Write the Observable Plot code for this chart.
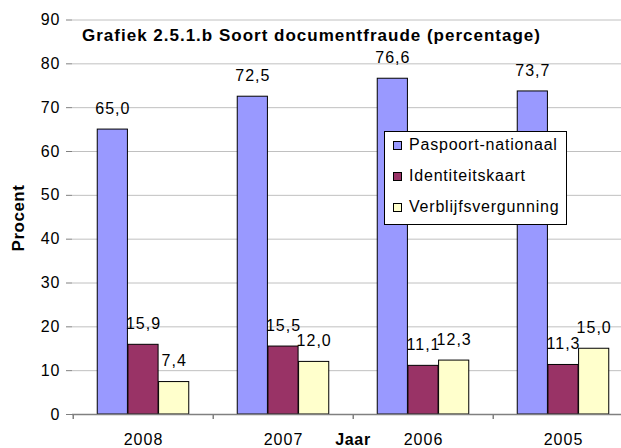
<!DOCTYPE html>
<html>
<head>
<meta charset="utf-8">
<script src="https://cdn.jsdelivr.net/npm/d3@7"></script>
<script src="https://cdn.jsdelivr.net/npm/@observablehq/plot@0.6"></script>
<style>
  html, body { margin: 0; padding: 0; background: #fff; }
  #wrap { position: relative; width: 621px; height: 448px; overflow: hidden; background: #fff;
          font-family: "Liberation Sans", Arial, sans-serif; color: #000; }
  #wrap svg { position: absolute; left: 0; top: 0; }
  #wrap svg text { letter-spacing: 1px; }
  .ov { position: absolute; white-space: nowrap; line-height: 1; }
  #title { left: 82px; top: 27.3px; font-size: 17px; font-weight: bold; letter-spacing: 1px; }
  #ylab { left: 17.5px; top: 218px; font-size: 17px; font-weight: bold; letter-spacing: 0.5px;
          transform: translate(-50%, -50%) rotate(-90deg); }
  #xlab { left: 353px; top: 431.5px; font-size: 16px; font-weight: bold; letter-spacing: 0.7px;
          transform: translateX(-50%); }
  #legend { left: 384px; top: 131px; width: 181px; height: 92px; border: 1px solid #000; background: #fff; }
  .sw { position: absolute; width: 7px; height: 7px; border: 1px solid #000; }
  .lt { position: absolute; font-size: 16px; letter-spacing: 0.8px; line-height: 1; white-space: nowrap; }
</style>
</head>
<body>
<div id="wrap"></div>
<script>
// ---- data ----
const years = ["2008", "2007", "2006", "2005"];
const paspoort = [65.0, 72.5, 76.6, 73.7];
const identiteitskaart = [15.9, 15.5, 11.1, 11.3];
const verblijfsvergunning = [7.4, 12.0, 12.3, 15.0];
const seriesNames = ["Paspoort-nationaal", "Identiteitskaart", "Verblijfsvergunning"];
const seriesColors = ["#9999ff", "#993366", "#ffffcc"];
const yTicks = [0, 10, 20, 30, 40, 50, 60, 70, 80, 90];
const titleText = "Grafiek 2.5.1.b Soort documentfraude (percentage)";
const yLabel = "Procent";
const xLabel = "Jaar";

// ---- build table ----
const seriesValues = [paspoort, identiteitskaart, verblijfsvergunning];
const rows = seriesValues.flatMap((vals, s) =>
  years.map((year, i) => ({ year, series: seriesNames[s], s, value: vals[i] })));
const fmt = v => v.toFixed(1).replace(".", ",");

const step = 140.5;   // band width of one year group
const barW = 30.67;   // width of a single bar

const barMarks = [];
const labelMarks = [];
seriesNames.forEach((name, s) => {
  const data = rows.filter(d => d.s === s);
  const center = step / 2 + (s - 1) * barW;
  barMarks.push(Plot.barY(data, {
    x: "year", y: "value", fill: "series", stroke: "#000", strokeWidth: 1,
    insetLeft: center - barW / 2, insetRight: step - center - barW / 2
  }));
  labelMarks.push(Plot.text(data, {
    x: "year", y: "value", text: d => fmt(d.value),
    dx: (s - 1) * barW, dy: -21, fontSize: 16, fill: "#000"
  }));
});

const chart = Plot.plot({
  width: 621,
  height: 448,
  marginLeft: 72,
  marginRight: 0,
  marginTop: 19.5,
  marginBottom: 34,
  x: { domain: years, range: [72, 634], padding: 0 },
  y: { domain: [0, 90] },
  color: { domain: seriesNames, range: seriesColors },
  style: { fontFamily: "'Liberation Sans', Arial, sans-serif", fontSize: "16px", background: "transparent", overflow: "visible" },
  marks: [
    Plot.ruleY(yTicks.filter(t => t > 0), { stroke: "#c0c0c0", strokeWidth: 1 }),
    ...barMarks,
    Plot.ruleY([0], { stroke: "#808080", strokeWidth: 1.5 }),
    Plot.ruleX(years, { x: d => d, y1: 0, y2: 0, insetBottom: -5, dx: -step / 2, stroke: "#808080", strokeWidth: 1.5 }),
    Plot.axisY({ ticks: yTicks, tickSize: 6, tickPadding: 6, line: true, stroke: "#808080", fill: "#000",
                 fontSize: 16, label: null, tickFormat: d => d }),
    Plot.axisX({ tickSize: 0, tickPadding: 19, fontSize: 16, label: null, fill: "#000" }),
    ...labelMarks
  ]
});

const wrap = document.getElementById("wrap");
wrap.appendChild(chart);

function addDiv(id, text) {
  const d = document.createElement("div");
  d.className = "ov"; d.id = id; d.textContent = text;
  wrap.appendChild(d);
  return d;
}
addDiv("title", titleText);
addDiv("ylab", yLabel);
addDiv("xlab", xLabel);

const legend = addDiv("legend", "");
seriesNames.forEach((name, i) => {
  const sw = document.createElement("div");
  sw.className = "sw";
  sw.style.left = "8px";
  sw.style.top = (9 + i * 31) + "px";
  sw.style.background = seriesColors[i];
  legend.appendChild(sw);
  const t = document.createElement("div");
  t.className = "lt";
  t.style.left = "24px";
  t.style.top = (4.5 + i * 31) + "px";
  t.textContent = name;
  legend.appendChild(t);
});
</script>
</body>
</html>
